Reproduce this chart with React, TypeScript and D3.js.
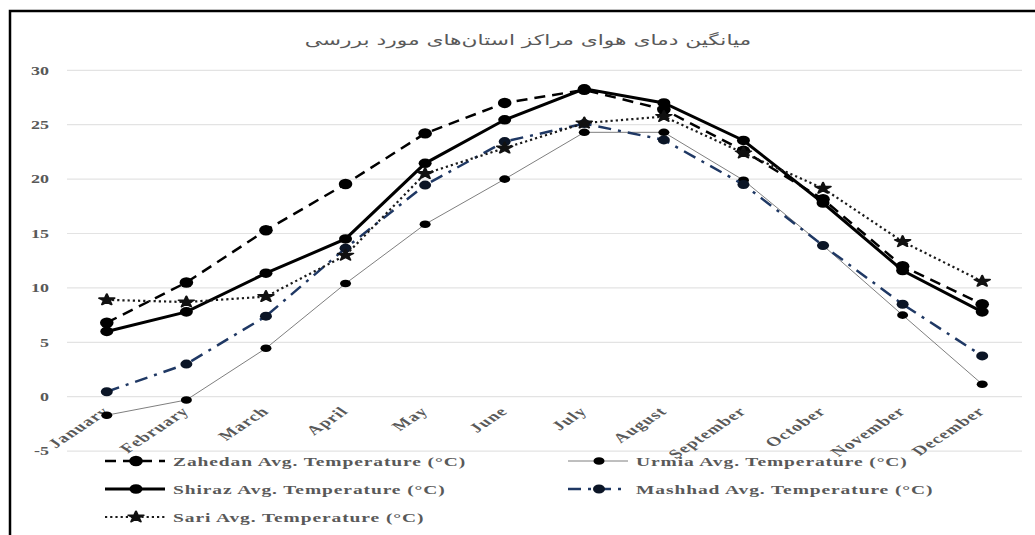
import React from "react";
import * as d3 from "d3";

const months = ["January","February","March","April","May","June","July","August","September","October","November","December"];
const zahedan = [6.8, 10.5, 15.3, 19.55, 24.2, 27.0, 28.2, 26.4, 22.6, 18.15, 12.0, 8.5];
const urmia = [-1.7, -0.3, 4.45, 10.4, 15.85, 20.0, 24.3, 24.3, 19.9, 13.9, 7.5, 1.15];
const shiraz = [6.0, 7.8, 11.35, 14.5, 21.45, 25.45, 28.3, 27.0, 23.55, 17.8, 11.6, 7.8];
const mashhad = [0.46, 3.0, 7.4, 13.65, 19.45, 23.45, 25.1, 23.6, 19.5, 13.9, 8.5, 3.75];
const sari = [8.9, 8.7, 9.2, 13.0, 20.5, 22.85, 25.15, 25.75, 22.4, 19.15, 14.25, 10.6];
const yTicks = [-5, 0, 5, 10, 15, 20, 25, 30];
const title = "میانگین دمای هوای مراکز استان\u200cهای مورد بررسی";

type S = { name: string; values: number[]; color: string; width: number; dash: string; marker: string; mrx: number; mry: number; mfill: string };
const series: S[] = [
  { name: "Zahedan Avg. Temperature (°C)", values: zahedan, color: "#000", width: 2.5, dash: "11 7", marker: "circle", mrx: 6.8, mry: 5.2, mfill: "#000" },
  { name: "Urmia Avg. Temperature (°C)", values: urmia, color: "#7f7f7f", width: 1, dash: "", marker: "circle", mrx: 5.5, mry: 3.8, mfill: "#000" },
  { name: "Shiraz Avg. Temperature (°C)", values: shiraz, color: "#000", width: 3, dash: "", marker: "circle", mrx: 6.5, mry: 4.8, mfill: "#000" },
  { name: "Mashhad Avg. Temperature (°C)", values: mashhad, color: "#1f3864", width: 2.5, dash: "13 7 3 7", marker: "circle", mrx: 6, mry: 4.5, mfill: "#0b1526" },
  { name: "Sari Avg. Temperature (°C)", values: sari, color: "#1a1a1a", width: 2.2, dash: "2.2 3", marker: "star", mrx: 6, mry: 5, mfill: "#111" },
];

const legendPos = [
  { x: 105, y: 461 },
  { x: 568, y: 461 },
  { x: 105, y: 489 },
  { x: 568, y: 489 },
  { x: 105, y: 517 },
];

const SX = 1.5;
const grey = "#595959";
const serif = "'Liberation Serif', 'Times New Roman', serif";

function Marker({ s, x, y }: { s: S; x: number; y: number }) {
  if (s.marker === "star") {
    const p = d3.symbol().type(d3.symbolStar).size(38)() as string;
    return <path d={p} transform={`translate(${x},${y}) scale(1.4,1)`} fill={s.mfill} stroke={s.mfill} strokeWidth={1.5} strokeLinejoin="round" />;
  }
  return <ellipse cx={x} cy={y} rx={s.mrx} ry={s.mry} fill={s.mfill} />;
}

export default function App() {
  const x = d3.scaleBand<string>().domain(months).range([67, 1022]);
  const cx = (m: string) => (x(m) as number) + x.bandwidth() / 2;
  const y = d3.scaleLinear().domain([-5, 30]).range([451.1, 70.3]);
  const line = d3.line<number>().x((_, i) => cx(months[i])).y((d) => y(d));

  return (
    <svg width={1035} height={535} style={{ position: "absolute", left: 0, top: 0, background: "#fff" }}>
      <rect x={10} y={11} width={1100} height={700} fill="#fff" stroke="#000" strokeWidth={2.5} />
      <text transform={`translate(528,41) scale(${SX},1)`} textAnchor="middle" dominantBaseline="middle" fontSize={14.5} fill={grey} fontFamily="'DejaVu Sans', sans-serif">{title}</text>
      {yTicks.map((t) => (
        <g key={t}>
          <line x1={67} x2={1022} y1={y(t)} y2={y(t)} stroke="#e3e3e3" strokeWidth={1.2} />
          <text transform={`translate(49,${y(t)}) scale(${SX},1)`} textAnchor="end" dy="0.35em" fontSize={12} fontWeight="bold" fill={grey} fontFamily={serif}>{t}</text>
        </g>
      ))}
      {months.map((m) => (
        <text key={m} transform={`translate(${cx(m) + 4},${412}) scale(${SX},1) rotate(-45)`} textAnchor="end" fontSize={13} fontWeight="bold" fill={grey} fontFamily={serif} letterSpacing={0.8}>{m}</text>
      ))}
      {series.map((s) => (
        <g key={s.name}>
          <path d={line(s.values) as string} fill="none" stroke={s.color} strokeWidth={s.width} strokeDasharray={s.dash} />
          {s.values.map((v, i) => <Marker key={i} s={s} x={cx(months[i])} y={y(v)} />)}
        </g>
      ))}
      {series.map((s, i) => {
        const p = legendPos[i];
        return (
          <g key={"lg" + s.name}>
            <line x1={p.x} x2={p.x + 60} y1={p.y} y2={p.y} stroke={s.color} strokeWidth={s.width} strokeDasharray={s.dash} />
            <Marker s={s} x={p.x + 31} y={p.y} />
            <text transform={`translate(${p.x + 68},${p.y}) scale(${SX},1)`} dy="0.35em" fontSize={13} fontWeight="bold" fill={grey} fontFamily={serif} letterSpacing={0.6}>{s.name}</text>
          </g>
        );
      })}
    </svg>
  );
}
